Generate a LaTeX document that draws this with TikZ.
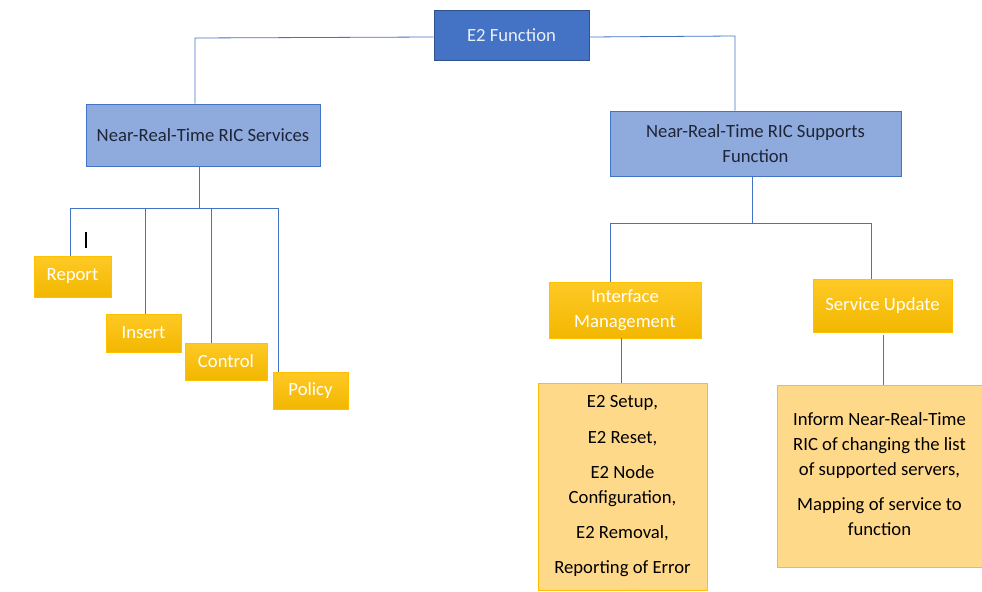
\documentclass[tikz,border=0pt]{standalone}
\usepackage{fontspec}
\setmainfont{Carlito}
\usepackage{xcolor}
\usetikzlibrary{positioning}

\definecolor{topblue}{HTML}{4472C4}
\definecolor{topedge}{HTML}{2F528F}
\definecolor{midblue}{HTML}{8FAADC}
\definecolor{gold}{HTML}{FFC000}
\definecolor{golddark}{HTML}{F2B700}
\definecolor{paleorange}{HTML}{FFD98A}
\definecolor{darktext}{HTML}{1E2537}

\tikzset{
  topbox/.style={draw=topedge, fill=topblue, text=white!88!topblue, minimum width=116.25pt, minimum height=37.5pt, inner sep=0pt},
  midbox/.style={draw=topblue, fill=midblue, text=darktext, align=center, inner sep=0pt},
  leafbox/.style={draw=gold, top color=gold!85!white, bottom color=golddark, text=white, align=center, inner sep=0pt},
  listbox/.style={draw=gold, fill=paleorange, text=black, align=center, inner sep=0pt},
  link/.style={draw=topblue, line width=0.6pt}
}

\begin{document}
\begin{tikzpicture}[x=0.75pt, y=-0.75pt, font=\fontsize{14}{18.5}\selectfont]
        \useasboundingbox (0,0) rectangle (982,592);
        % top level
        \node[topbox] (e2fn) at (511.5,35) {E2 Function};
        \node[midbox, minimum width=175.5pt, minimum height=46.5pt] (ricsrv) at (203,135) {Near-Real-Time RIC Services};
        \node[midbox, minimum width=218.25pt, minimum height=48.75pt] (ricsup) at (755.5,143.5) {Near-Real-Time RIC Supports\\Function};
        % services
        \node[leafbox, minimum width=57.75pt, minimum height=30.75pt] (report) at (72.5,276.5) {Report};
        \node[leafbox, minimum width=56.25pt, minimum height=28.5pt] (insert) at (143.5,333) {Insert};
        \node[leafbox, minimum width=61.5pt, minimum height=27.75pt] (control) at (226,361.5) {Control};
        \node[leafbox, minimum width=56.25pt, minimum height=27.75pt] (policy) at (310.5,390.5) {Policy};
        % supports
        \node[leafbox, minimum width=114pt, minimum height=42pt] (ifmgmt) at (625,310) {Interface\\Management};
        \node[leafbox, minimum width=104.25pt, minimum height=39.75pt] (srvupd) at (882.5,305.5) {Service Update};
        \node[listbox, minimum width=126.75pt, minimum height=155.25pt] (ifproc) at (622.5,486.5) {E2 Setup,\\[8pt] E2 Reset,\\[8pt] E2 Node\\Configuration,\\[8pt] E2 Removal,\\[8pt] Reporting of Error};
        \node[listbox, minimum width=153.75pt, minimum height=136.5pt, text depth=3pt] (srvproc) at (879.5,476) {Inform Near-Real-Time\\RIC of changing the list\\of supported servers,\\[8pt] Mapping of service to\\function};

        % connectors
        \coordinate (lbus) at (195,38);
        \coordinate (rbus) at (735,36);
        \draw[link] (e2fn.west |- 0,37) -- (lbus) -- (lbus |- ricsrv.north);
        \draw[link] (e2fn.east |- 0,37) -- (rbus) -- (rbus |- ricsup.north);

        \coordinate (sbus) at (199,208);
        \draw[link] (sbus |- ricsrv.south) -- (sbus);
        \draw[link] (70,208) -- (278,208);
        \draw[link] (70,208) -- (70,0 |- report.north);
        \draw[link] (145,208) -- (145,0 |- insert.north);
        \draw[link] (211,208) -- (211,0 |- control.north);
        \draw[link] (278,208) -- (278,0 |- policy.north);

        \coordinate (pbus) at (752,223);
        \draw[link] (pbus |- ricsup.south) -- (pbus);
        \draw[link] (610,223) -- (871,223);
        \draw[link] (610,223) -- (610,0 |- ifmgmt.north);
        \draw[link] (871,223) -- (871,0 |- srvupd.north);
        \draw[link] (621,0 |- ifmgmt.south) -- (621,0 |- ifproc.north);
        \draw[link] (883,335) -- (883,0 |- srvproc.north);

        % stray cursor mark
        \draw[black, line width=0.8pt] (86,232) -- (86,248);
    \end{tikzpicture}
\end{document}
